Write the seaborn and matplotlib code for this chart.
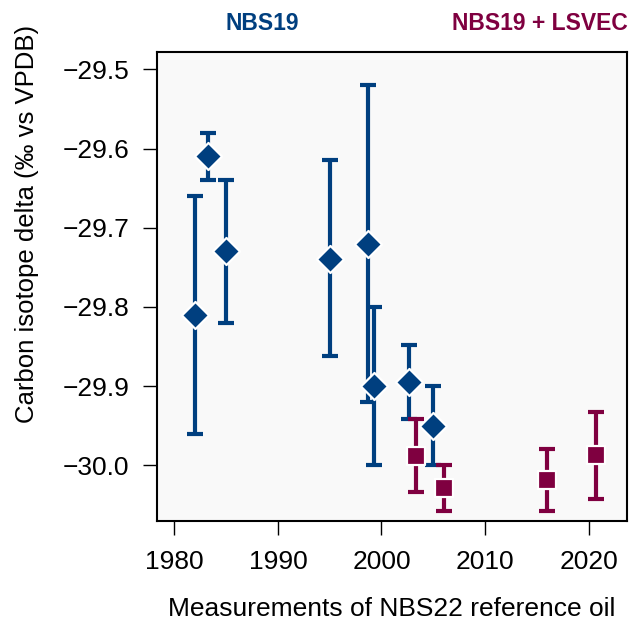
import matplotlib
matplotlib.use("Agg")
import matplotlib.pyplot as plt
import seaborn as sns
import pandas as pd
import numpy as np

# NBS19-anchored measurements
nbs19_year = [1982.0, 1983.3, 1985.0, 1995.0, 1998.7, 1999.3, 2002.7, 2005.0]
nbs19_delta = [-29.81, -29.61, -29.73, -29.739, -29.72, -29.90, -29.895, -29.95]
nbs19_lo = [-29.96, -29.64, -29.82, -29.862, -29.92, -30.00, -29.942, -30.00]
nbs19_hi = [-29.66, -29.58, -29.64, -29.615, -29.52, -29.80, -29.848, -29.90]

# NBS19 + LSVEC measurements
lsvec_year = [2003.3, 2006.0, 2016.0, 2020.7]
lsvec_delta = [-29.988, -30.029, -30.019, -29.987]
lsvec_lo = [-30.034, -30.058, -30.058, -30.042]
lsvec_hi = [-29.941, -29.999, -29.979, -29.933]

x_ticks = [1980, 1990, 2000, 2010, 2020]
y_ticks = [-29.5, -29.6, -29.7, -29.8, -29.9, -30.0]

BLUE = "#003F7F"
RED = "#7F0040"

sns.set_theme(style="ticks")
plt.rcParams["font.family"] = ["Liberation Sans", "DejaVu Sans"]
plt.rcParams["axes.unicode_minus"] = True

fig = plt.figure(figsize=(6.3, 6.22), dpi=100)
ax = fig.add_axes([157.3 / 630, 1 - 521 / 622, (626.7 - 157.3) / 630, (521 - 52.3) / 622])
ax.set_facecolor("#F9F9F9")

df1 = pd.DataFrame({"year": nbs19_year, "delta": nbs19_delta, "lo": nbs19_lo, "hi": nbs19_hi})
df2 = pd.DataFrame({"year": lsvec_year, "delta": lsvec_delta, "lo": lsvec_lo, "hi": lsvec_hi})

for df, col in [(df1, BLUE), (df2, RED)]:
    yerr = np.vstack([df["delta"] - df["lo"], df["hi"] - df["delta"]])
    eb = ax.errorbar(df["year"], df["delta"], yerr=yerr, fmt="none", ecolor=col,
                     elinewidth=3.0, capsize=5.8, capthick=3.0, zorder=2)
    for lc in eb[2]:
        lc.set_capstyle("round")

sns.scatterplot(data=df1, x="year", y="delta", marker="D", s=190, color=BLUE,
                edgecolor="white", linewidth=1.6, ax=ax, zorder=3, legend=False)
sns.scatterplot(data=df2, x="year", y="delta", marker="s", s=165, color=RED,
                edgecolor="white", linewidth=1.6, ax=ax, zorder=3, legend=False)

ax.set_xlim(1978.36, 2023.67)
ax.set_ylim(-30.0703, -29.4785)
ax.set_xticks(x_ticks)
ax.set_yticks(y_ticks)
ax.set_yticklabels([f"{v:.1f}".replace("-", "\u2212") for v in y_ticks])
ax.tick_params(axis="both", direction="out", length=10, width=1.0, color="black",
               labelsize=19, labelcolor="black")
ax.tick_params(axis="y", pad=10)
ax.tick_params(axis="x", pad=11)
for sp in ax.spines.values():
    sp.set_visible(True)
    sp.set_color("black")
    sp.set_linewidth(1.5)

ax.set_xlabel("Measurements of NBS22 reference oil", fontsize=19, color="black")
ax.set_ylabel("Carbon isotope delta (\u2030 vs VPDB)", fontsize=18.5, color="black")
ax.xaxis.set_label_coords((392 - 157.3) / (626.7 - 157.3), -(609 - 521) / (521 - 52.3))
ax.yaxis.set_label_coords(-(157.3 - 27) / (626.7 - 157.3), (521 - 224) / (521 - 52.3))
ax.xaxis.label.set_va("center")
ax.yaxis.label.set_va("center")

fig.text(262 / 630, 1 - 24 / 622, "NBS19", color=BLUE, fontsize=16.5, fontweight="bold",
         ha="center", va="center")
fig.text(540 / 630, 1 - 24 / 622, "NBS19 + LSVEC", color=RED, fontsize=16.5, fontweight="bold",
         ha="center", va="center")

fig.savefig("out.png", dpi=100)
